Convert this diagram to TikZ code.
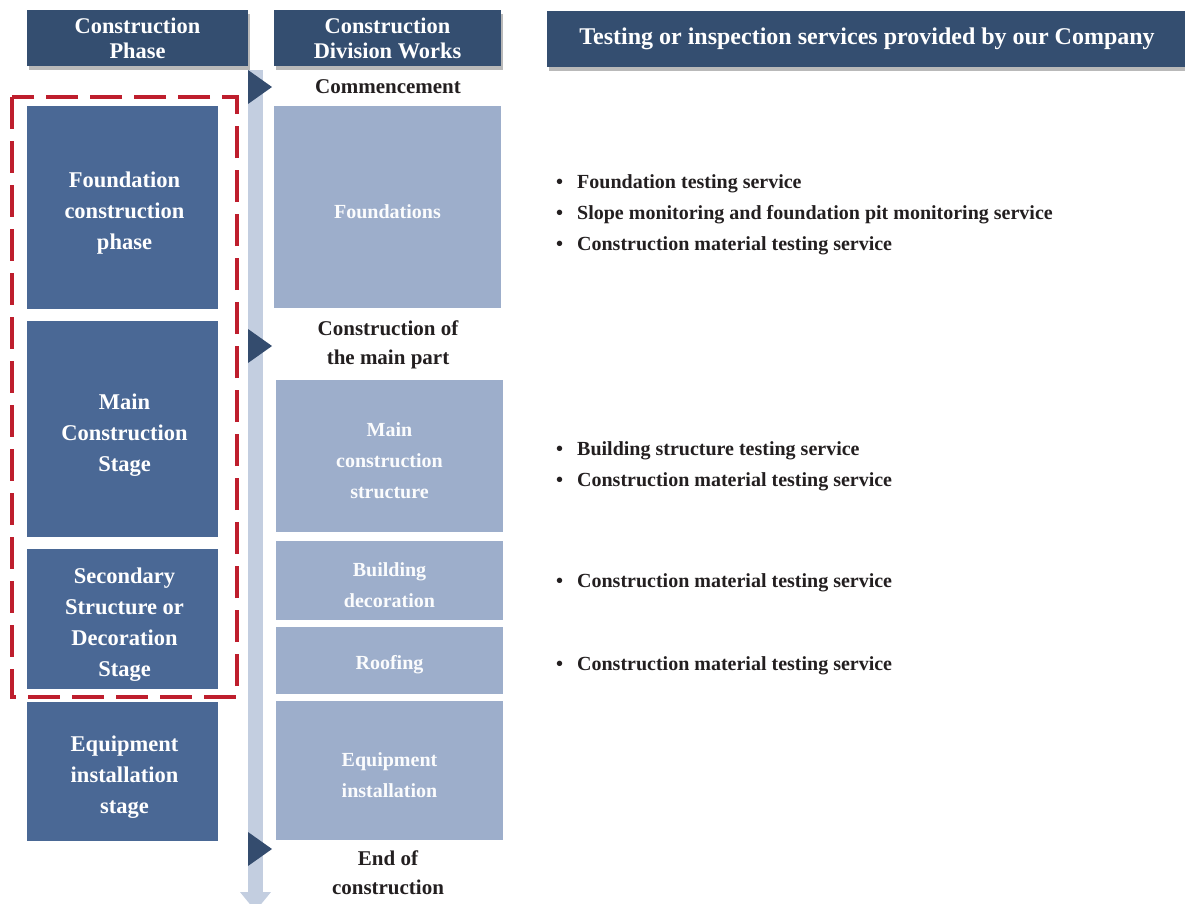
\documentclass[tikz,border=0pt]{standalone}
\usepackage{fontspec}
\setmainfont{Liberation Serif}
\usetikzlibrary{shadows}

\definecolor{headblue}{HTML}{344E70}
\definecolor{phaseblue}{HTML}{4A6895}
\definecolor{workblue}{HTML}{9DAECB}
\definecolor{barblue}{HTML}{C3CEE0}
\definecolor{triblue}{HTML}{344C6E}
\definecolor{framered}{HTML}{BE1E2D}
\definecolor{inktext}{HTML}{231F20}

\tikzset{
	header/.style={fill=headblue, text=white, align=center, inner sep=0pt,
	               font=\fontsize{22.4}{25}\selectfont\bfseries,
	               drop shadow={shadow xshift=2pt, shadow yshift=-4pt,
	                            fill=black!50, opacity=0.55}},
	phasebox/.style={fill=phaseblue, inner sep=0pt, minimum width=191pt},
	phasetext/.style={text=white, align=center, inner sep=0pt,
	                  xshift=2pt, yshift=-6pt,
	                  font=\fontsize{22.5}{31}\selectfont\bfseries},
	workbox/.style={fill=workblue, inner sep=0pt, minimum width=227pt},
	worktext/.style={text=white!96!workblue, align=center, inner sep=0pt,
	                 yshift=-4.5pt,
	                 font=\fontsize{20}{31}\selectfont\bfseries},
	milestone/.style={text=inktext, align=center, inner sep=0pt,
	                  font=\fontsize{21}{29}\selectfont\bfseries},
	service/.style={text=inktext, align=left, anchor=west, inner sep=0pt,
	                font=\fontsize{20}{31}\selectfont\bfseries}
}
\newcommand{\svcitem}[1]{\makebox[21pt][l]{\textbullet}#1}

\begin{document}
\begin{tikzpicture}[x=1pt, y=-1pt]
	\useasboundingbox (0,0) rectangle (1185,903);
	
	% Column headers
	\node (head phase) [header, minimum width=221pt, minimum height=56pt]
	      at (137.5,38) {Construction\\Phase};
	\node (head works) [header, minimum width=227pt, minimum height=56pt]
	      at (387.5,38) {Construction\\Division Works};
	\node (head services) [header, minimum width=640pt, minimum height=56pt,
	      font=\fontsize{24}{26}\selectfont\bfseries]
	      at (867,38.5) {Testing or inspection services provided by our Company};
	
	% Time line
	\fill [barblue] (248,70) rectangle (263,892);
	\fill [barblue] (240,892) -- (271,892) -- (255.5,911) -- cycle;
	\foreach \y in {87,346,849}{
		\fill [triblue] (248,\y-17) -- (272,\y) -- (248,\y+17) -- cycle;
	}
	
	% Phases
	\foreach \top/\bot/\txt [count=\i] in {
		106/309/{Foundation\\construction\\phase},
		321/537/{Main\\Construction\\Stage},
		549/689/{Secondary\\Structure or\\Decoration\\Stage},
		702/841/{Equipment\\installation\\stage}}{
		\pgfmathsetmacro{\hgt}{\bot-\top}
		\node (phase \i) [phasebox, minimum height=\hgt pt,
		      label={[phasetext]center:{\txt}}]
		      at (122.5,{(\top+\bot)/2}) {};
	}
	
	% Division works
	\foreach \top/\bot/\xc/\txt [count=\i] in {
		106/308/387.5/{Foundations},
		380/532/389.5/{Main\\construction\\structure},
		541/620/389.5/{Building\\decoration},
		627/694/389.5/{Roofing},
		701/840/389.5/{Equipment\\installation}}{
		\pgfmathsetmacro{\hgt}{\bot-\top}
		\node (work \i) [workbox, minimum height=\hgt pt,
		      label={[worktext]center:{\txt}}]
		      at (\xc,{(\top+\bot)/2}) {};
	}
	
	% Milestones
	\node (start)    [milestone] at (388,87)  {Commencement};
	\node (mainpart) [milestone] at (388,345) {Construction of\\the main part};
	\node (finish)   [milestone] at (388,873) {End of\\construction};
	
	% Services
	\node (svc 1) [service] at (556,215) {\svcitem{Foundation testing service}\\
		\svcitem{Slope monitoring and foundation pit monitoring service}\\
		\svcitem{Construction material testing service}};
	\node (svc 2) [service] at (556,466.5) {\svcitem{Building structure testing service}\\
		\svcitem{Construction material testing service}};
	\node (svc 3) [service] at (556,583) {\svcitem{Construction material testing service}};
	\node (svc 4) [service] at (556,666) {\svcitem{Construction material testing service}};
	
	% Frame round the civil stages
	\draw [framered, line width=4pt, dash pattern=on 32pt off 12pt]
	      (12,97) rectangle (237,697);
\end{tikzpicture}
\end{document}
